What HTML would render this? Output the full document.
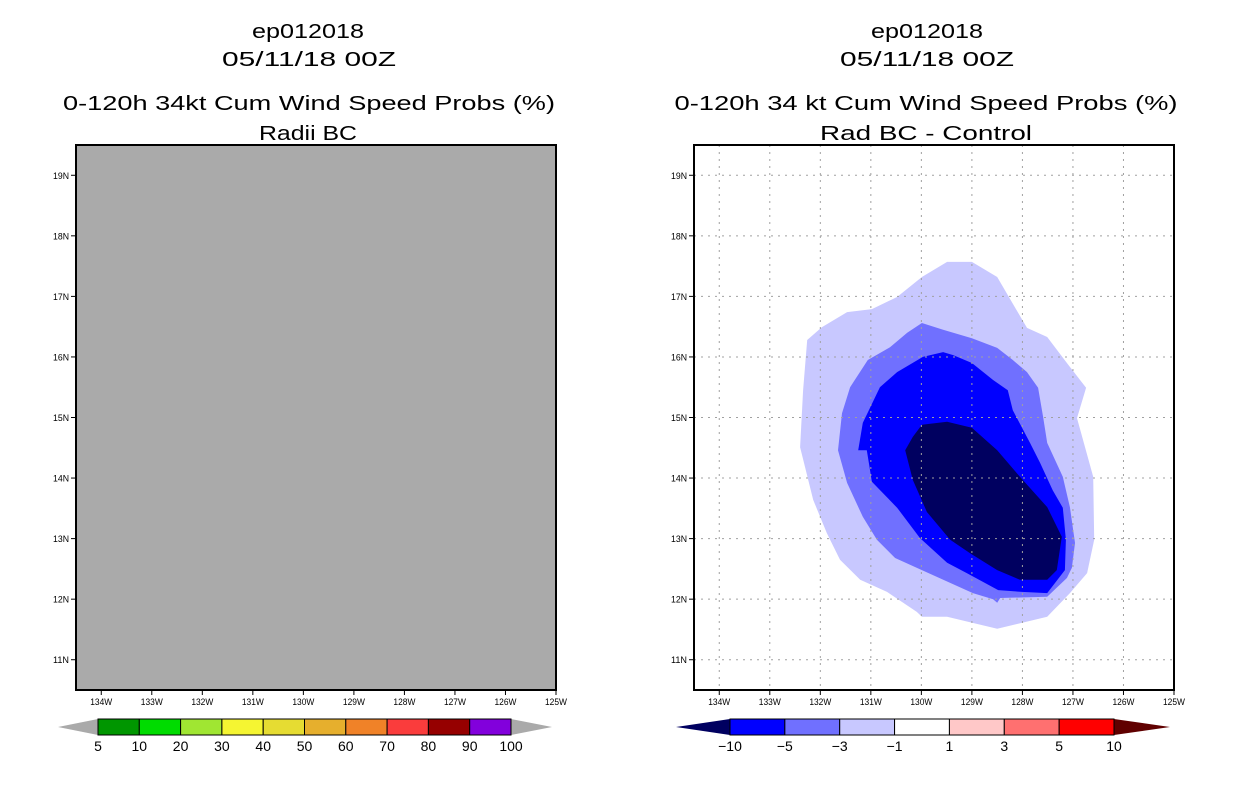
<!DOCTYPE html>
<html><head><meta charset="utf-8"><style>
html,body{margin:0;padding:0;background:#fff}
svg{display:block}
text{font-family:"Liberation Sans",sans-serif}
</style></head><body>
<svg id="fig" width="1236" height="800" viewBox="0 0 1236 800" xmlns="http://www.w3.org/2000/svg">
<g font-size="20" text-anchor="middle" fill="#000">
<text x="308" y="38" textLength="112" lengthAdjust="spacingAndGlyphs">ep012018</text>
<text x="309" y="66" textLength="174" lengthAdjust="spacingAndGlyphs">05/11/18 00Z</text>
<text x="309" y="110" textLength="492" lengthAdjust="spacingAndGlyphs">0-120h 34kt Cum Wind Speed Probs (%)</text>
<text x="308" y="140" textLength="98" lengthAdjust="spacingAndGlyphs">Radii BC</text>
</g>
<g font-size="20" text-anchor="middle" fill="#000">
<text x="927" y="38" textLength="112" lengthAdjust="spacingAndGlyphs">ep012018</text>
<text x="927" y="66" textLength="174" lengthAdjust="spacingAndGlyphs">05/11/18 00Z</text>
<text x="926" y="110" textLength="503" lengthAdjust="spacingAndGlyphs">0-120h 34 kt Cum Wind Speed Probs (%)</text>
<text x="926" y="140" textLength="212" lengthAdjust="spacingAndGlyphs">Rad BC - Control</text>
</g>
<g id="leftPanel"></g>
<g id="rightPanel"></g>
<g id="leftBar"></g>
<g id="rightBar"></g>
</svg>
<script>
const lonTicks = [-134,-133,-132,-131,-130,-129,-128,-127,-126,-125];
const latTicks = [11,12,13,14,15,16,17,18,19];
const lonRange = [-134.5,-125];
const latRange = [10.5,19.5];
// contour polygons (lon, lat) for difference field levels
const lvlM1Lon = [-129.49,-129.0,-128.5,-127.91,-127.51,-127.12,-126.74,-126.92,-126.6,-126.58,-126.72,-127.06,-127.51,-128.5,-129.49,-129.99,-130.09,-130.68,-131.21,-131.61,-131.87,-132.14,-132.4,-132.34,-132.26,-131.97,-131.47,-130.98,-130.48,-129.99];
const lvlM1Lat = [17.57,17.57,17.32,16.48,16.33,15.9,15.49,14.99,14.02,12.98,12.43,12.1,11.71,11.51,11.71,11.71,11.79,12.12,12.32,12.65,13.09,13.64,14.51,15.45,16.28,16.49,16.74,16.79,16.99,17.32];
const lvlM3Lon = [-129.99,-129.57,-129.0,-128.5,-128.19,-127.91,-127.69,-127.59,-127.51,-127.2,-127.06,-126.96,-127.02,-127.12,-127.51,-128.44,-128.5,-128.58,-128.98,-129.99,-130.52,-130.88,-131.16,-131.47,-131.65,-131.57,-131.41,-131.06,-130.62,-130.28];
const lvlM3Lat = [16.56,16.45,16.31,16.15,15.95,15.75,15.49,15.01,14.58,14.02,13.52,12.93,12.52,12.35,12.04,12.02,11.94,12.0,12.1,12.48,12.68,12.98,13.36,13.92,14.46,15.07,15.5,15.95,16.16,16.4];
const lvlM5Lon = [-129.57,-129.37,-129.0,-128.58,-128.29,-128.19,-128.09,-127.85,-127.65,-127.4,-127.2,-127.14,-127.16,-127.51,-128.01,-128.48,-129.1,-129.49,-130.03,-130.48,-130.98,-131.08,-131.25,-131.16,-130.82,-130.48,-129.97];
const lvlM5Lat = [16.08,16.03,15.9,15.62,15.45,15.12,14.96,14.58,14.25,13.8,13.51,12.98,12.48,12.1,12.12,12.15,12.43,12.6,13.01,13.51,13.94,14.46,14.46,14.91,15.5,15.75,16.0];
const lvlM10Lon = [-129.99,-129.49,-129.0,-128.5,-128.05,-127.51,-127.22,-127.32,-127.51,-128.05,-128.5,-129.04,-129.43,-129.89,-130.17,-130.32,-130.17];
const lvlM10Lat = [14.88,14.93,14.83,14.46,14.02,13.52,13.03,12.48,12.32,12.32,12.48,12.76,12.98,13.44,13.97,14.46,14.68];
const leftLevels = ['5','10','20','30','40','50','60','70','80','90','100'];
const leftColors = ['#009600','#00dc00','#a0e632','#f5f532','#e6dc32','#e6af2d','#f08228','#fa3c3c','#960000','#8200dc'];
const rightLevels = ['-10','-5','-3','-1','1','3','5','10'];
const rightColors = ['#0000ff','#7070ff','#c8c8ff','#ffffff','#ffc8c8','#ff7070','#ff0000'];

const NS='http://www.w3.org/2000/svg';
function mk(parent,tag,attrs){const e=document.createElementNS(NS,tag);for(const k in attrs)e.setAttribute(k,attrs[k]);parent.appendChild(e);return e;}

function drawPanel(g,x0,fill,grid,polys){
  const x1=x0+480, y0=145, y1=690;
  const sx=lon=>x0+(lon-lonRange[0])/(lonRange[1]-lonRange[0])*(x1-x0);
  const sy=lat=>y1-(lat-latRange[0])/(latRange[1]-latRange[0])*(y1-y0);
  const bg=mk(g,'rect',{x:x0,y:y0,width:x1-x0,height:y1-y0,fill:fill});
  
  
  polys.forEach(p=>{
    const pts=p.lon.map((v,i)=>sx(v).toFixed(1)+','+sy(p.lat[i]).toFixed(1)).join(' ');
    const pg=mk(g,'polygon',{points:pts,fill:p.color});
    
    
  });
  if(grid){
    lonTicks.slice(0,-1).forEach(l=>{const ln=mk(g,'line',{x1:sx(l),x2:sx(l),y1:y0,y2:y1,stroke:'#a0a0a0','stroke-width':1,'stroke-dasharray':'2,5'});
      });
    latTicks.forEach(l=>{const ln=mk(g,'line',{x1:x0,x2:x1,y1:sy(l),y2:sy(l),stroke:'#a0a0a0','stroke-width':1,'stroke-dasharray':'2,5'});
      });
  }
  const fr=mk(g,'rect',{x:x0,y:y0,width:x1-x0,height:y1-y0,fill:'none',stroke:'#000','stroke-width':2});
  
  
  latTicks.forEach(l=>{
    mk(g,'line',{x1:x0-5,x2:x0,y1:sy(l),y2:sy(l),stroke:'#000','stroke-width':1});
    const t=mk(g,'text',{x:x0-7,y:sy(l)+3.5,'font-size':9,'text-anchor':'end',textLength:16,lengthAdjust:'spacingAndGlyphs'});
    t.textContent=l+'N';
    
    
  });
  lonTicks.forEach(l=>{
    mk(g,'line',{x1:sx(l),x2:sx(l),y1:y1,y2:y1+5,stroke:'#000','stroke-width':1});
    const t=mk(g,'text',{x:sx(l),y:y1+15,'font-size':9,'text-anchor':'middle',textLength:22,lengthAdjust:'spacingAndGlyphs'});
    t.textContent=(-l)+'W';
    
    
  });
}

drawPanel(document.getElementById('leftPanel'),76,'#aaaaaa',false,[]);
drawPanel(document.getElementById('rightPanel'),694,'#ffffff',true,[
  {lon:lvlM1Lon,lat:lvlM1Lat,color:'#c8c8ff',name:'contour-minus1'},
  {lon:lvlM3Lon,lat:lvlM3Lat,color:'#7070ff',name:'contour-minus3'},
  {lon:lvlM5Lon,lat:lvlM5Lat,color:'#0000ff',name:'contour-minus5'},
  {lon:lvlM10Lon,lat:lvlM10Lat,color:'#000060',name:'contour-minus10'}
]);

function drawBar(g,xa,xb,tipL,tipR,colors,labels,lcol,rcol){
  const y0=719,y1=735,w=(xb-xa)/colors.length,ym=(y0+y1)/2;
  const tl=mk(g,'polygon',{points:`${tipL},${ym} ${xa},${y0} ${xa},${y1}`,fill:lcol});
  
  
  const tr=mk(g,'polygon',{points:`${tipR},${ym} ${xb},${y0} ${xb},${y1}`,fill:rcol});
  
  
  colors.forEach((c,i)=>{
    const r=mk(g,'rect',{x:xa+i*w,y:y0,width:w,height:y1-y0,fill:c,stroke:'#000','stroke-width':1});
    
    
  });
  labels.forEach((s,i)=>{
    const t=mk(g,'text',{x:xa+i*w,y:751,'font-size':14,'text-anchor':'middle'});
    t.textContent=s.replace('-','\u2212');
    
    
  });
}
drawBar(document.getElementById('leftBar'),98,511,58,552,leftColors,leftLevels,'#aaaaaa','#aaaaaa');
drawBar(document.getElementById('rightBar'),730,1114,676,1170,rightColors,rightLevels,'#000060','#600000');
</script>
</body></html>
